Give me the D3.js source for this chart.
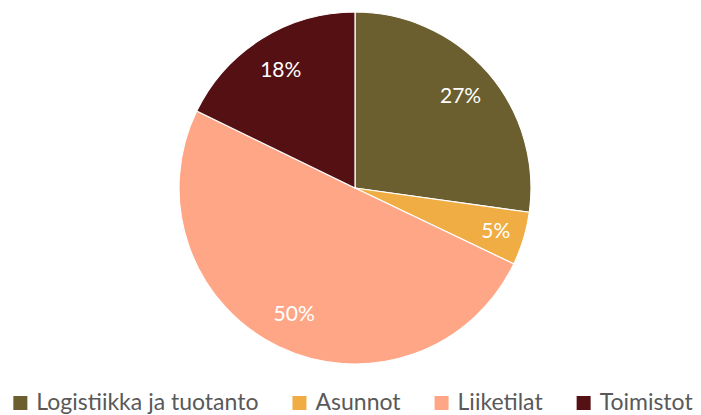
<!DOCTYPE html>
<html>
<head>
<meta charset="utf-8">
<script src="https://cdn.jsdelivr.net/npm/d3@7"></script>
<style>
  body { margin: 0; background: #fff; }
  text { font-family: Lato, "Noto Sans", sans-serif; }
</style>
</head>
<body>
<div id="chart"></div>
<script>
const categories = ["Logistiikka ja tuotanto", "Asunnot", "Liiketilat", "Toimistot"];
const shares = [27.2, 4.9, 50.1, 17.8];
const colors = ["#6b5e2f", "#f0ad44", "#ffa686", "#551014"];

const width = 701, height = 415;
const cx = 355, cy = 188, radius = 176;

const svg = d3.select("#chart")
    .append("svg")
    .attr("width", width)
    .attr("height", height);

const color = d3.scaleOrdinal().domain(categories).range(colors);

const pie = d3.pie().sort(null).value(d => d.value);
const data = categories.map((c, i) => ({name: c, value: shares[i]}));
const arcs = pie(data);

const arc = d3.arc().innerRadius(0).outerRadius(radius);
// small slices sit a bit further out
const labelArc = d3.arc()
    .innerRadius(d => d.data.value < 10 ? 147 : 140)
    .outerRadius(d => d.data.value < 10 ? 147 : 140);

const g = svg.append("g")
    .attr("transform", "translate(" + cx + "," + cy + ")");

g.selectAll("path")
    .data(arcs)
    .join("path")
    .attr("d", arc)
    .attr("fill", d => color(d.data.name))
    .attr("stroke", "#fff")
    .attr("stroke-width", 1.2);

g.selectAll(".lbl")
    .data(arcs)
    .join("text")
    .attr("class", "lbl")
    .attr("transform", d => "translate(" + labelArc.centroid(d) + ")")
    .attr("text-anchor", "middle")
    .attr("dy", "0.35em")
    .attr("fill", "#fff")
    .style("font-size", "21px")
    .text(d => Math.round(d.data.value) + "%");

// legend
const legend = svg.append("g");
const items = legend.selectAll("g")
    .data(categories)
    .join("g");
items.append("rect")
    .attr("width", 14)
    .attr("height", 14)
    .attr("y", -6)
    .attr("fill", d => color(d));
items.append("text")
    .attr("x", 23)
    .attr("dy", "0.35em")
    .attr("fill", "#595959")
    .style("font-size", "23px")
    .text(d => d);

let xPos = 0;
items.each(function () {
    const w = 23 + d3.select(this).select("text").node().getComputedTextLength();
    d3.select(this).attr("transform", "translate(" + xPos + ",0)");
    xPos += w + 34;
});
const total = xPos - 34;
legend.attr("transform", "translate(" + (353 - total / 2) + ",402)");
</script>
</body>
</html>
